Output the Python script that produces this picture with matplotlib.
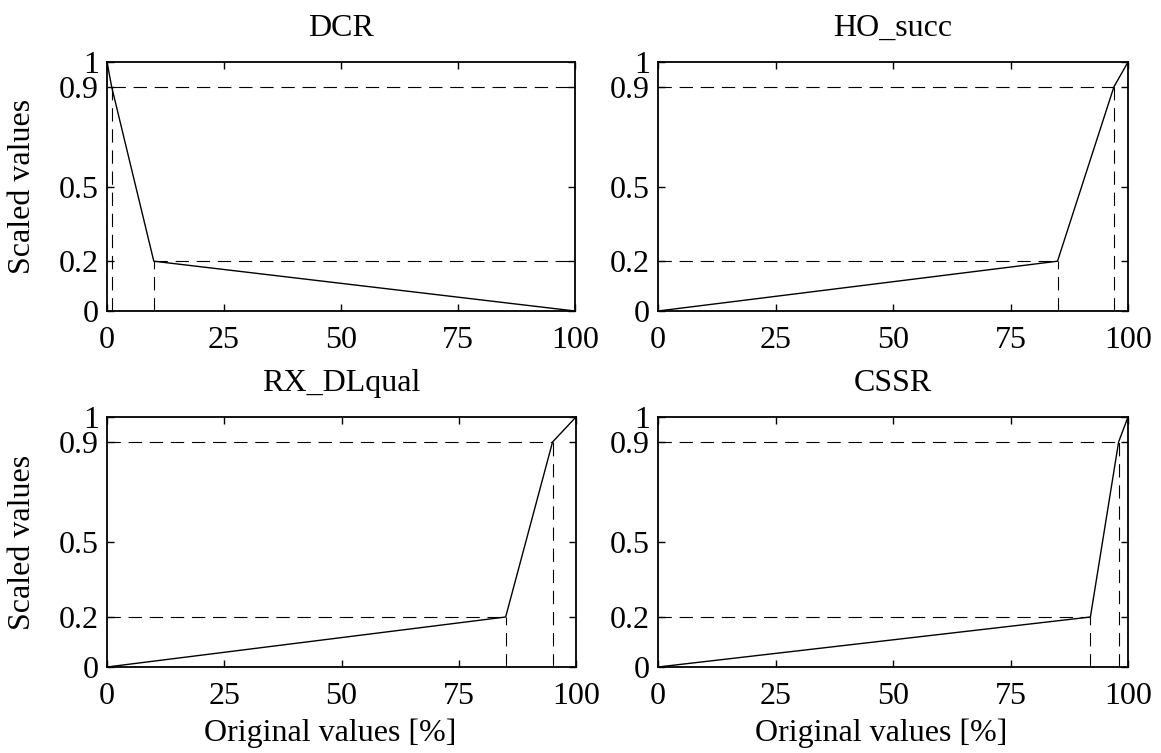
"""
Piecewise linear scaling functions of four KPIs.
"""
import matplotlib
matplotlib.use('Agg')
import matplotlib.pyplot as plt

font = {'family': 'serif', 'serif': ['Liberation Serif'], 'size': 23}
matplotlib.rc('font', **font)

# KPI names (subplot titles)
kpi_names = ['DCR', 'HO_succ', 'RX_DLqual', 'CSSR']
# breakpoints of each scaling function: original values [%] and scaled values
orig_vals = [[0, 1, 10, 100],
             [0, 85, 97, 100],
             [0, 85, 95, 100],
             [0, 92, 98, 100]]
scaled_vals = [[1, 0.9, 0.2, 0],
               [0, 0.2, 0.9, 1],
               [0, 0.2, 0.9, 1],
               [0, 0.2, 0.9, 1]]
# decreasing function -> guide lines go to the right
decreasing = [True, False, False, False]

x_ticks = [0, 25, 50, 75, 100]
y_ticks = [0, 0.2, 0.5, 0.9, 1]
y_ticklabels = ['0', '0.2', '0.5', '0.9', '1']

fig = plt.figure(figsize=(11.61, 7.53), dpi=100, facecolor='white')
W, H = 1161., 753.
boxes = [(107, 62, 575, 311), (658, 62, 1128, 311),
         (107, 417, 576, 667), (658, 417, 1128, 667)]
dash = (0, (12, 7))

for i, name in enumerate(kpi_names):
    x0, y0, x1, y1 = boxes[i]
    ax = fig.add_axes([x0 / W, 1 - y1 / H, (x1 - x0) / W, (y1 - y0) / H])
    xs, ys = orig_vals[i], scaled_vals[i]
    # guide lines at the two inner breakpoints
    for xb, yb in zip(xs[1:3], ys[1:3]):
        ax.plot([xb, xb], [0, yb], color='k', lw=0.8, linestyle=dash)
        if decreasing[i]:
            ax.plot([xb, 100], [yb, yb], color='k', lw=0.8, linestyle=dash)
        else:
            ax.plot([0, xb], [yb, yb], color='k', lw=0.8, linestyle=dash)
    ax.plot(xs, ys, color='k', lw=1.0)
    ax.set_xlim(0, 100)
    ax.set_ylim(0, 1)
    ax.set_xticks(x_ticks)
    ax.set_yticks(y_ticks)
    ax.set_yticklabels(y_ticklabels)
    ax.tick_params(direction='in', top=True, right=True, length=5, width=1)
    ax.tick_params(axis='x', pad=11)
    ax.tick_params(axis='y', pad=6)
    for sp in ax.spines.values():
        sp.set_linewidth(1.3)
    ax.set_title(name, fontsize=23, pad=19)
    if i % 2 == 0:
        ax.set_ylabel('Scaled values')
        ax.yaxis.set_label_coords(-0.15, 0.5)
    if i >= 2:
        ax.set_xlabel('Original values [%]')
        ax.xaxis.set_label_coords(0.475, -0.205)

plt.savefig('out.png', dpi=100, facecolor='white')
plt.close()
